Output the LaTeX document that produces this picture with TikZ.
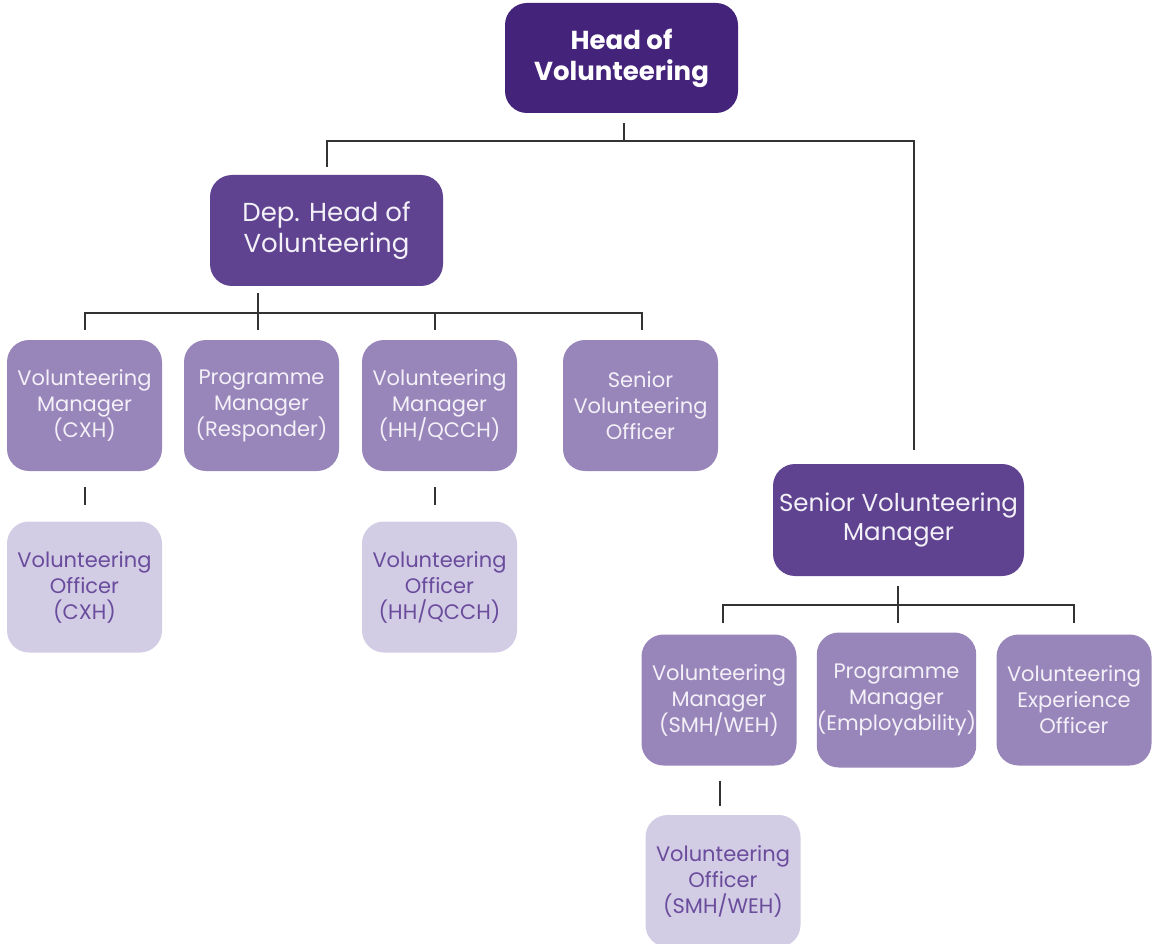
\documentclass[tikz,border=0pt]{standalone}
\usepackage{fontspec}
\setmainfont{Poppins}
\definecolor{cdark}{HTML}{44237A}
\definecolor{cmid}{HTML}{5F4390}
\definecolor{cbox}{HTML}{9885BA}
\definecolor{clight}{HTML}{D3CCE5}
\definecolor{ctextl}{HTML}{6A4C9C}
\definecolor{ctextw}{HTML}{F3F0F8}
\definecolor{cline}{HTML}{333333}
\begin{document}
\begin{tikzpicture}[x=1pt,y=-1pt,
  base/.style={rounded corners=22pt,align=center,inner sep=0pt},
  topbox/.style={base,fill=cdark,text=white,minimum width=233pt,minimum height=110pt,font=\fontsize{26}{31}\selectfont\bfseries},
  midbox/.style={base,fill=cmid,text=ctextw,minimum width=233pt,minimum height=111pt,font=\fontsize{26}{31}\selectfont},
  svmbox/.style={base,fill=cmid,text=ctextw,minimum width=251pt,minimum height=112pt,font=\fontsize{24.5}{29}\selectfont},
  rolebox/.style={base,fill=cbox,text=ctextw,minimum width=155pt,minimum height=131pt,font=\fontsize{21}{26}\selectfont},
  offbox/.style={base,fill=clight,text=ctextl,minimum width=155pt,minimum height=131pt,font=\fontsize{21}{26}\selectfont},
  conn/.style={draw=cline,line width=2pt}]
\useasboundingbox (0,0) rectangle (1152,944);
\node[topbox] (head) at (621.5,58) {Head of\\Volunteering};
\node[midbox] (dep) at (326.5,230.5) {Dep. Head of\\Volunteering};
\node[svmbox] (svm) at (898.5,520) {Senior Volunteering\\Manager};
\node[rolebox] (vmcxh) at (84.5,405.5) {Volunteering\\Manager\\(CXH)};
\node[rolebox] (pmr) at (261.5,405.5) {Programme\\Manager\\(Responder)};
\node[rolebox] (vmhh) at (439.5,405.5) {Volunteering\\Manager\\(HH/QCCH)};
\node[rolebox] (svo) at (640.5,405.5) {Senior\\Volunteering\\Officer};
\node[offbox] (vocxh) at (84.5,587) {Volunteering\\Officer\\(CXH)};
\node[offbox] (vohh) at (439.5,587) {Volunteering\\Officer\\(HH/QCCH)};
\node[rolebox] (vmsmh) at (719,700) {Volunteering\\Manager\\(SMH/WEH)};
\node[rolebox,minimum width=159pt,minimum height=135pt] (pme) at (896.5,700) {Programme\\Manager\\(Employability)};
\node[rolebox] (veo) at (1074,700) {Volunteering\\Experience\\Officer};
\node[offbox,minimum height=132pt] (vosmh) at (723,881) {Volunteering\\Officer\\(SMH/WEH)};
% head -> dep, svm
\draw[conn] ([xshift=2pt,yshift=-10pt]head.south) -- ++(0,18) coordinate (b1);
\draw[conn] ([yshift=8pt]dep.north) |- (b1) -| ([xshift=15.5pt,yshift=14pt]svm.north);
% dep -> level 2
\draw[conn] ([xshift=-68.5pt,yshift=-7pt]dep.south) -- ([xshift=-3.5pt,yshift=10pt]pmr.north);
\coordinate (b2) at ([xshift=-68.5pt,yshift=-27pt]dep.south);
\draw[conn] ([xshift=0.5pt,yshift=10pt]vmcxh.north) |- (b2) -| ([xshift=1.5pt,yshift=10pt]svo.north);
\draw[conn] ([xshift=-5pt,yshift=10pt]vmhh.north) -- ([xshift=-5pt,yshift=27pt]vmhh.north);
% officers
\draw[conn] ([xshift=0.5pt,yshift=-16pt]vmcxh.south) -- ([xshift=0.5pt,yshift=16pt]vocxh.north);
\draw[conn] ([xshift=-5pt,yshift=-16pt]vmhh.south) -- ([xshift=-5pt,yshift=16pt]vohh.north);
% svm -> level 2 right
\draw[conn] ([xshift=-1pt,yshift=-10pt]svm.south) -- ([xshift=1pt,yshift=9pt]pme.north);
\coordinate (b3) at ([xshift=-1pt,yshift=-29pt]svm.south);
\draw[conn] ([xshift=4pt,yshift=11pt]vmsmh.north) |- (b3) -| ([xshift=0pt,yshift=11pt]veo.north);
\draw[conn] ([xshift=1pt,yshift=-15pt]vmsmh.south) -- ([xshift=-3pt,yshift=9pt]vosmh.north);
\end{tikzpicture}
\end{document}
